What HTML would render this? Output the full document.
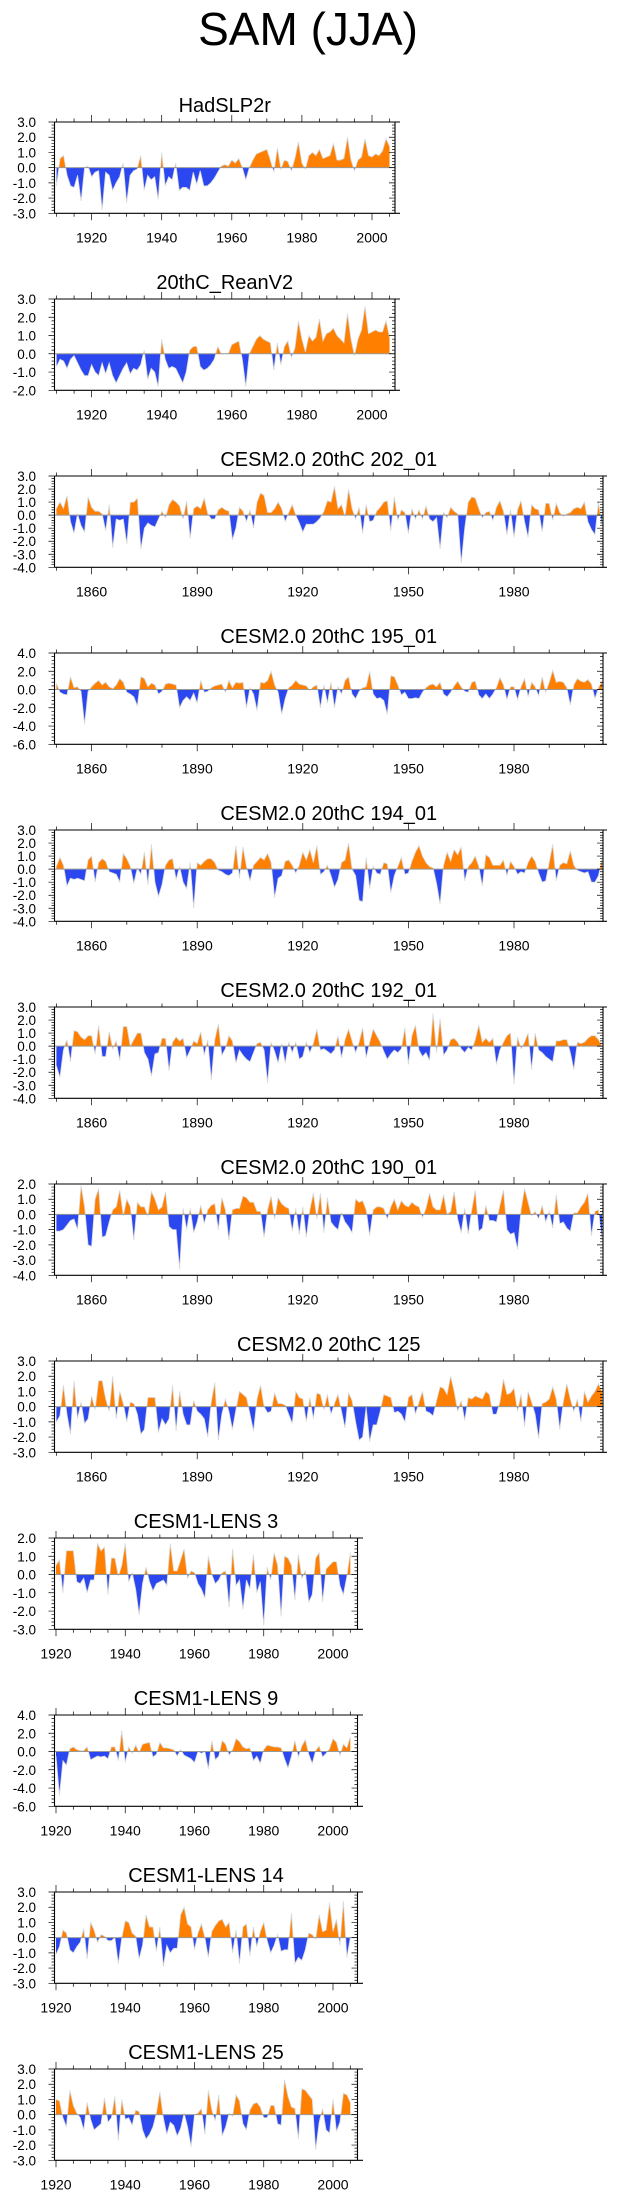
<!DOCTYPE html>
<html><head><meta charset="utf-8"><title>SAM (JJA)</title>
<style>html,body{margin:0;padding:0;background:#fff}svg{display:block}text{font-family:"Liberation Sans",Arial,sans-serif;fill:#000}</style>
</head><body>
<svg id="chart" width="623" height="2198" viewBox="0 0 623 2198" xmlns="http://www.w3.org/2000/svg">
<text x="308" y="45" font-size="46" text-anchor="middle">SAM (JJA)</text>
</svg>
<script>
// ---------- data ----------
const titles = ["HadSLP2r","20thC_ReanV2","CESM2.0 20thC 202_01","CESM2.0 20thC 195_01","CESM2.0 20thC 194_01","CESM2.0 20thC 192_01","CESM2.0 20thC 190_01","CESM2.0 20thC 125","CESM1-LENS 3","CESM1-LENS 9","CESM1-LENS 14","CESM1-LENS 25"];
const startYears = [1910,1910,1850,1850,1850,1850,1850,1850,1920,1920,1920,1920];
const yMaxs = [3,3,3,4,3,3,2,3,2,4,3,3];
const yMins = [-3,-2,-4,-6,-4,-4,-4,-3,-3,-6,-3,-3];
const yTickSteps = [1,1,1,2,1,1,1,1,1,2,1,1];
const xTickLabelsA = [1920,1940,1960,1980,2000];
const xTickLabelsB = [1860,1890,1920,1950,1980];

const sHad = [-1.2,0.6,0.8,-0.5,-1.2,-1.3,-0.5,-2.2,0.0,0.1,
-0.6,-0.3,-0.2,-2.8,-0.3,-0.5,-1.5,-1.0,-0.6,0.3,
-2.3,-0.5,-0.2,-0.1,0.8,-1.5,-0.5,-0.8,-0.6,-2.1,
1.0,-1.2,-0.6,-0.8,0.3,-1.5,-1.3,-1.3,-1.5,-0.3,
-1.1,-0.2,-1.2,-1.2,-1.0,-0.7,-0.3,0.1,0.2,0.1,
0.5,0.3,0.6,0.0,-0.8,0.0,0.5,0.9,1.0,1.1,
1.2,0.5,-0.3,1.3,-0.1,0.5,0.4,-0.2,0.6,1.7,
0.3,-0.1,0.8,1.0,0.8,1.2,0.6,0.7,0.8,1.6,
0.5,0.5,0.6,2.0,0.5,-0.2,0.5,0.7,1.9,0.8,
0.7,0.9,0.8,1.1,1.9,1.4];
const sRean = [-0.7,-0.3,-0.4,-0.8,-0.3,-0.1,-0.5,-0.9,-1.2,-1.2,
-0.6,-1.0,-1.2,-0.5,-1.1,-0.5,-1.2,-1.6,-1.2,-0.8,
-0.5,-1.1,-0.8,-0.9,-0.6,0.2,-1.4,-0.8,-1.0,-1.8,
0.8,-0.3,-0.8,-0.7,-0.8,-1.2,-1.6,-1.0,0.2,0.4,
0.4,-0.7,-0.9,-0.8,-0.6,-0.3,0.4,0.0,0.0,0.0,
0.5,0.6,0.7,-0.3,-1.8,0.0,0.4,0.8,1.0,0.8,
0.7,0.6,-0.9,0.6,-0.6,0.4,0.7,-0.2,0.3,1.8,
0.8,0.1,1.0,0.7,0.9,1.9,0.7,1.1,1.2,1.4,
1.0,0.8,0.6,2.2,0.8,-0.1,0.8,1.3,2.6,1.1,
1.2,1.3,1.2,1.2,1.8,0.9];
const s202 = [0.5,1.0,0.5,1.5,-0.5,-1.4,0.1,-0.8,-1.3,1.4,
0.6,0.3,0.3,0.1,-1.2,0.8,-2.5,-0.3,-0.4,-0.3,
-2.2,1.0,1.0,1.3,-2.6,-1.0,-0.6,-0.8,-0.9,-0.3,
0.3,-0.2,0.8,1.2,1.0,0.7,-0.3,1.1,-1.8,0.5,
0.7,0.5,1.3,0.1,-0.3,-0.3,0.4,0.6,0.4,0.3,
-1.9,-1.0,0.6,0.3,-0.5,0.4,-1.0,1.0,1.7,1.5,
0.2,0.2,0.5,1.0,0.5,-0.5,0.2,0.8,0.0,-0.6,
-1.3,-0.7,-0.7,-0.7,-0.5,-0.2,0.3,1.1,1.0,2.2,
0.5,0.8,-0.1,2.0,0.5,-0.3,0.6,-1.4,0.8,-0.5,
-0.4,0.3,0.6,1.0,1.1,-1.2,1.4,-0.4,0.4,0.2,
-1.4,0.5,-0.3,0.4,-0.3,0.7,-0.3,-0.5,-0.2,-2.6,
0.2,-0.2,0.6,0.3,0.1,-3.7,-1.0,1.0,1.4,1.3,
0.5,-0.2,0.2,0.3,-0.4,0.6,1.1,0.3,-1.5,0.4,
-1.7,0.4,1.1,-0.5,-1.7,0.8,0.5,0.4,-1.3,0.9,
0.9,-0.4,0.9,0.2,-0.1,0.1,0.2,0.5,0.6,0.5,
1.0,-0.5,-1.1,-1.5,1.0,-0.8];
const s195 = [0.7,-0.3,-0.5,-0.6,1.4,0.2,0.3,-0.2,-3.8,-0.2,
0.3,0.7,1.0,0.5,0.8,0.3,0.1,0.5,1.2,0.8,
-0.3,-0.5,-0.8,-1.8,1.4,1.2,0.3,0.7,0.5,-0.5,
-0.2,0.6,0.7,0.6,0.5,-2.0,-1.2,-0.8,-1.2,-0.4,
-1.5,1.0,-0.3,-0.2,0.2,0.4,0.5,0.6,-0.3,1.0,
0.2,0.8,0.7,0.8,-2.0,0.2,-0.5,-2.3,0.8,0.7,
1.0,2.0,0.5,-0.3,-2.7,-1.0,0.2,0.5,1.0,0.6,
0.5,0.4,-0.1,0.3,0.5,-2.0,0.5,-1.5,0.8,-2.0,
0.3,-0.5,1.0,1.4,-0.5,-1.0,-0.2,0.2,0.3,2.0,
-0.5,-1.0,-0.9,-1.2,-2.7,1.5,1.4,0.5,-0.6,-0.3,
-1.0,-1.0,-0.9,-1.0,-0.3,0.2,0.5,0.6,0.3,0.8,
-0.5,-0.8,-0.3,0.4,0.9,0.3,-0.2,-0.3,0.8,0.9,
-0.6,-1.0,-0.5,-1.0,-0.5,0.2,1.3,0.5,-1.1,0.3,
0.3,-1.1,0.3,1.2,-0.8,0.8,0.3,-0.7,1.4,-0.3,
0.8,2.1,0.8,0.9,0.8,0.2,-1.7,0.5,1.2,0.9,
0.8,1.1,0.6,-1.0,0.2,0.9];
const s194 = [0.2,0.9,0.3,-1.3,-0.7,-0.8,-0.7,-0.8,-0.9,0.7,
1.0,-1.0,0.5,0.8,0.6,-0.2,-0.3,-0.4,-1.0,1.2,
0.8,0.2,-1.1,0.1,-0.4,1.3,-1.2,1.9,-1.0,-2.1,
-1.2,0.3,0.7,0.8,-0.8,0.2,-1.0,-1.5,0.5,-3.0,
0.5,0.3,0.6,0.8,0.8,0.5,-0.1,-0.2,-0.4,-0.5,
-0.3,1.8,-0.7,1.7,0.2,-0.9,0.3,0.6,0.9,0.7,
1.2,0.5,-2.2,-0.7,-0.5,0.6,0.7,0.3,-0.3,0.3,
1.3,0.7,1.5,0.5,1.8,-0.4,-0.2,0.3,-0.5,-1.4,
-0.8,0.5,0.7,2.0,0.0,-0.5,-2.4,-2.5,0.9,-1.5,
0.2,-0.3,-0.4,0.5,0.4,-1.8,-0.5,0.2,0.9,-0.4,
-0.3,0.6,1.3,1.8,1.0,0.5,0.2,0.1,-1.1,-2.7,
0.3,1.3,0.6,1.5,1.1,1.7,-0.9,0.2,0.5,1.0,
0.2,-1.3,1.1,0.9,0.3,0.3,0.3,0.7,-0.5,0.6,
0.2,-0.4,-0.2,-0.3,0.5,1.0,0.6,-0.3,-1.0,-0.9,
0.5,1.9,-0.9,0.3,0.5,0.4,1.4,0.3,-0.1,-0.2,
-0.3,-0.2,-1.0,-1.0,-0.5,0.8];
const s192 = [-1.5,-2.4,-0.3,0.5,-1.2,1.2,1.1,0.7,0.5,0.8,
0.8,-0.6,1.6,-0.8,-0.8,1.1,-0.2,0.4,-1.1,1.5,
1.5,0.0,0.5,1.0,1.0,-0.5,-1.0,-2.3,-0.6,-0.5,
0.6,0.6,-1.9,0.3,0.7,0.4,0.6,-0.9,-0.3,0.4,
0.2,1.1,-0.7,0.5,-2.6,0.5,1.7,-0.7,-0.2,0.8,
0.4,-1.3,-0.3,-0.7,-1.0,-1.2,-0.5,0.2,0.3,-0.3,
-2.8,0.3,-0.4,-1.3,0.2,-1.3,0.3,-0.5,0.3,-1.0,
-0.8,0.3,-0.5,0.2,1.3,-0.3,-0.2,-0.4,-0.6,-0.3,
0.8,-0.9,0.5,1.3,0.4,-0.5,0.3,1.4,-0.9,0.3,
1.3,0.8,0.3,-0.4,-1.0,-0.6,-0.3,-0.5,-0.2,1.4,
-1.4,0.8,1.6,-0.3,-0.8,-0.5,-1.1,2.5,-0.5,2.1,
-0.7,-0.3,0.5,0.6,0.3,-0.2,-0.5,-0.1,-0.3,0.5,
1.6,0.3,0.6,0.3,0.6,-1.4,-0.3,0.3,0.8,1.0,
-2.9,0.7,-0.2,0.3,1.0,-1.8,1.0,-0.3,-0.5,-0.8,
-1.0,-1.2,0.4,0.4,0.5,0.5,-0.5,-1.8,0.3,0.2,
0.3,0.6,0.8,0.8,0.5,0.0];
const s190 = [-1.1,-1.1,-1.0,-0.7,-0.4,-0.3,-1.0,1.9,0.5,-2.0,
-2.1,1.0,1.7,-1.5,-1.4,-0.5,0.3,0.5,1.6,-0.1,
1.0,0.5,-1.7,0.8,0.5,0.5,-0.1,1.5,1.0,0.3,
0.5,1.5,-0.8,-1.0,-1.0,-3.6,0.4,-1.0,0.4,-1.2,
-0.5,0.6,-0.6,0.3,0.6,0.7,-1.0,1.1,0.3,-1.7,
0.3,0.4,0.4,1.2,1.1,0.8,0.8,0.2,0.2,-1.5,
0.3,1.2,-0.3,1.1,0.7,0.5,0.4,-1.1,0.4,-1.3,
0.5,-1.5,0.3,1.4,-0.3,1.4,-1.2,1.1,-0.5,-0.8,
-1.0,0.1,-0.5,-0.8,-1.2,1.0,0.8,0.9,0.3,-1.4,
0.3,0.5,0.5,0.4,-0.3,0.5,1.0,0.3,0.9,0.6,
0.5,0.8,0.6,0.5,-0.2,0.4,1.4,0.5,0.3,0.3,
1.3,0.0,0.2,1.5,-0.3,-1.2,0.4,-1.3,0.3,1.6,
-1.1,-0.9,0.6,-0.4,-0.4,-0.5,0.6,1.6,-1.0,-1.3,
-1.2,-2.3,0.3,1.7,0.8,-0.1,0.2,-0.3,0.6,-0.5,
0.2,-0.9,1.3,-0.6,-0.5,-0.9,-1.1,0.1,0.1,0.5,
0.8,1.4,-1.4,0.2,0.3,-1.7];
const s125 = [-1.0,-0.6,1.4,-0.5,-1.8,1.7,-0.8,0.3,-1.1,-0.8,
0.7,-0.2,1.7,1.7,0.5,-0.3,2.0,-0.8,1.0,0.2,
-1.0,0.3,0.2,-0.5,-1.8,-1.5,0.6,0.6,0.6,-1.7,
-0.8,-1.2,-0.8,1.4,-1.6,1.0,-0.5,-1.2,-1.2,0.4,
-0.3,-0.5,-0.8,-2.0,0.3,1.6,-2.2,-0.5,0.5,-0.3,
-1.5,-0.2,1.0,0.8,0.6,-0.5,-1.6,0.5,1.4,0.0,
-0.4,-0.3,0.9,0.2,0.2,0.1,-0.5,-1.1,1.0,0.6,
0.5,-1.0,0.6,-0.8,0.9,0.8,-0.2,0.8,-0.5,0.2,
0.8,-0.3,-1.4,0.9,0.4,-1.0,-2.2,-2.0,0.0,-2.3,
-1.2,-1.2,-0.3,0.8,0.7,0.6,-0.4,-0.3,-0.5,-1.0,
0.6,0.8,-0.5,0.3,1.0,-0.3,-0.4,-0.6,0.4,1.3,
1.2,0.8,2.0,1.0,-0.3,0.4,-0.9,0.6,0.5,0.7,
0.6,0.5,1.0,0.8,-0.5,-0.5,0.3,1.8,0.8,0.9,
1.2,-0.3,0.8,-1.3,1.0,0.3,-0.5,-2.1,0.2,0.3,
0.5,1.3,0.5,-1.5,0.3,1.5,0.5,-0.3,0.5,-1.0,
1.0,0.3,0.7,1.0,1.5,1.0];
const sL3 = [0.5,0.8,-1.0,1.3,1.3,1.3,-0.4,-0.5,-0.2,-1.0,
-0.3,-0.3,1.7,1.3,1.5,-1.1,0.9,0.9,-0.1,0.5,
1.7,-0.4,0.1,-0.8,-2.2,-0.5,0.4,-0.4,-0.9,-0.5,
-0.4,-0.3,-0.6,1.7,0.2,0.2,0.8,1.4,-0.2,0.2,
0.1,-0.5,-0.8,-1.3,1.0,0.0,-0.5,-0.3,0.1,0.2,
-1.8,1.4,-0.6,-0.3,-1.9,-0.3,-0.8,1.1,-1.0,-0.4,
-2.8,0.4,-0.3,1.2,0.5,-2.3,1.0,0.9,0.5,-1.4,
1.1,-0.2,0.2,-1.5,-1.1,0.9,1.2,-1.5,0.3,0.5,
0.7,0.7,-0.6,-1.1,-0.1,1.2];
const sL9 = [-0.5,-4.8,-1.0,-1.5,0.3,0.5,0.2,0.1,0.1,0.5,
-0.9,-0.7,-0.5,-0.6,-0.5,-0.8,0.5,0.5,-1.0,2.3,
-1.2,0.5,-0.2,0.7,-0.1,0.8,0.9,1.0,-0.6,-0.3,
1.0,0.4,0.4,0.3,0.2,-0.5,0.2,-0.4,-0.6,-0.8,
-1.2,0.0,-0.2,0.0,-1.9,1.2,-0.9,-0.5,1.2,0.8,
-0.4,0.2,1.4,1.1,0.5,0.3,0.4,-1.0,-0.5,-1.3,
0.2,0.7,0.6,0.5,0.5,0.4,-0.8,-1.8,-0.5,1.2,
-0.6,0.6,1.3,-0.3,-1.3,0.1,0.6,-0.6,-0.2,0.3,
1.4,1.0,-0.4,0.8,0.4,1.6];
const sL14 = [-1.1,-0.6,0.5,0.3,-0.8,-1.0,-0.6,-0.3,0.6,-1.4,
1.0,0.5,-0.3,0.2,0.1,-0.2,-0.2,0.0,-1.7,0.0,
1.1,1.0,0.3,0.1,-1.4,-0.5,1.5,0.7,0.7,-0.9,
0.7,-1.9,-0.5,-1.0,-0.7,-0.7,1.5,2.0,0.9,0.7,
-0.8,0.3,0.9,0.0,-1.3,0.4,0.8,1.1,1.2,0.7,
1.0,-1.0,0.5,-1.7,0.7,0.9,-1.2,0.7,-0.6,0.4,
1.0,-0.2,-1.0,-0.5,0.2,-0.9,-0.8,-0.8,1.6,-1.7,
-1.3,-1.5,-0.8,0.3,0.2,-0.1,1.5,0.4,0.5,2.3,
0.4,1.2,-0.5,2.4,-1.3,0.0];
const sL25 = [1.0,0.9,-0.2,-0.8,1.6,0.6,0.1,-0.2,-1.0,0.8,
-0.3,-1.0,-0.8,-0.6,1.1,-0.5,-0.2,1.2,-1.7,1.0,
-0.3,-0.2,-0.7,0.3,0.2,-1.0,-1.6,-1.3,-0.8,0.1,
1.5,-0.2,-1.3,-0.5,-0.7,-1.4,-0.9,0.1,-0.8,-2.1,
0.0,0.1,0.4,-1.3,1.6,0.3,-0.4,1.3,-1.4,-0.8,
0.1,-0.1,1.3,0.9,-0.6,-1.0,0.3,0.7,0.8,0.5,
-0.2,-0.2,0.6,0.6,-0.6,-0.7,2.3,1.2,0.5,0.4,
-1.6,1.7,1.6,1.3,1.0,-2.3,-0.5,0.4,-1.0,-1.2,
1.0,-1.1,-0.5,1.4,1.3,0.8];
const series = [sHad,sRean,s202,s195,s194,s192,s190,s125,sL3,sL9,sL14,sL25];

// ---------- layout ----------
const svg = document.getElementById('chart');
const NS = 'http://www.w3.org/2000/svg';
function mk(tag, attrs, parent){ const e=document.createElementNS(NS,tag); for(const k in attrs) e.setAttribute(k,attrs[k]); (parent||svg).appendChild(e); return e; }

const layouts = {
  A:{x0:54.5, x1:395, yr0:1920, px0:91.6, yr1:2000, px1:372, minor:5, labels:xTickLabelsA, lineEnd:400},
  B:{x0:54.5, x1:603, yr0:1860, px0:91.6, yr1:1980, px1:514, minor:10, labels:xTickLabelsB, lineEnd:607},
  C:{x0:54.5, x1:357.5, yr0:1920, px0:56, yr1:2000, px1:333, minor:5, labels:xTickLabelsA, lineEnd:363}
};
const groups = ['A','A','B','B','B','B','B','B','C','C','C','C'];
const BOX_H = 91.3;

for(let p=0;p<12;p++){
  const L = layouts[groups[p]];
  const top = 122 + p*177;
  const bot = top + BOX_H;
  const yMax = yMaxs[p], yMin = yMins[p];
  const xs = yr => L.px0 + (yr - L.yr0)*(L.px1-L.px0)/(L.yr1-L.yr0);
  const ys = v => top + (yMax - v)*(BOX_H)/(yMax - yMin);
  const g = mk('g',{});
  
  

  const t = mk('text',{x:(L.x0+L.x1)/2, y:top-10, 'font-size':20, 'text-anchor':'middle'}, g);
  t.textContent = titles[p];
  
  

  const cid = 'c'+p;
  const defs = mk('defs',{}, g);
  const cpA = mk('clipPath',{id:cid+'a'}, defs);
  mk('rect',{x:L.x0, y:top, width:L.x1-L.x0, height:ys(0)-top}, cpA);
  const cpB = mk('clipPath',{id:cid+'b'}, defs);
  mk('rect',{x:L.x0, y:ys(0), width:L.x1-L.x0, height:bot-ys(0)}, cpB);

  const data = series[p];
  const y0 = startYears[p];
  let pts = [];
  data.forEach((v,i)=>{ pts.push(xs(y0+i).toFixed(2)+','+ys(v).toFixed(2)); });
  const xa = xs(y0), xb = xs(y0+data.length-1);
  const poly = xa.toFixed(2)+','+ys(0).toFixed(2)+' '+pts.join(' ')+' '+xb.toFixed(2)+','+ys(0).toFixed(2);
  const pos = mk('polygon',{points:poly, fill:'#ff8000', 'clip-path':'url(#'+cid+'a)'}, g);
  
  
  const neg = mk('polygon',{points:poly, fill:'#2b48f0', 'clip-path':'url(#'+cid+'b)'}, g);
  
  
  const ln = mk('polyline',{points:pts.join(' '), fill:'none', stroke:'#d8d8d8', 'stroke-width':0.8}, g);
  
  
  const zl = mk('line',{x1:L.x0, x2:L.x1, y1:ys(0), y2:ys(0), stroke:'#999', 'stroke-width':1}, g);
  
  

  const fr = mk('path',{d:`M${L.x0},${top}H${L.lineEnd}M${L.x0},${bot}H${L.lineEnd}M${L.x0},${top}V${bot}M${L.x1},${top}V${bot}`, stroke:'#000', 'stroke-width':1.1, fill:'none'}, g);
  
  

  let d='';
  const firstYr = Math.ceil((y0-0.5)/L.minor)*L.minor;
  for(let yr=firstYr; xs(yr)<=L.x1+0.5; yr+=L.minor){
    const x=xs(yr); if(x<L.x0-0.5) continue;
    const major = L.labels.indexOf(yr)>=0;
    const len = major?7:3.5;
    d+=`M${x},${bot}v${len}M${x},${top}v${-len}`;
  }
  const minorStep = yTickSteps[p]/5;
  for(let k=0; ; k++){
    const v = yMin + k*minorStep; if(v>yMax+1e-6) break;
    const y = ys(v);
    const major = Math.abs(v/yTickSteps[p]-Math.round(v/yTickSteps[p]))<1e-6;
    const len = major?6:3;
    d+=`M${L.x0},${y}h${-len}M${L.x1},${y}h${-len}`;
  }
  const tk = mk('path',{d:d, stroke:'#000', 'stroke-width':0.7, fill:'none'}, g);
  
  

  L.labels.forEach(yr=>{
    const tx = mk('text',{x:xs(yr), y:bot+29, 'font-size':14, 'text-anchor':'middle'}, g);
    tx.textContent = yr;
    
    
  });
  for(let v=yMax; v>=yMin-1e-6; v-=yTickSteps[p]){
    const ty = mk('text',{x:36, y:ys(v)+5, 'font-size':13.5, 'text-anchor':'end'}, g);
    ty.textContent = v.toFixed(1);
    
    
  }
}
</script>
</body></html>
